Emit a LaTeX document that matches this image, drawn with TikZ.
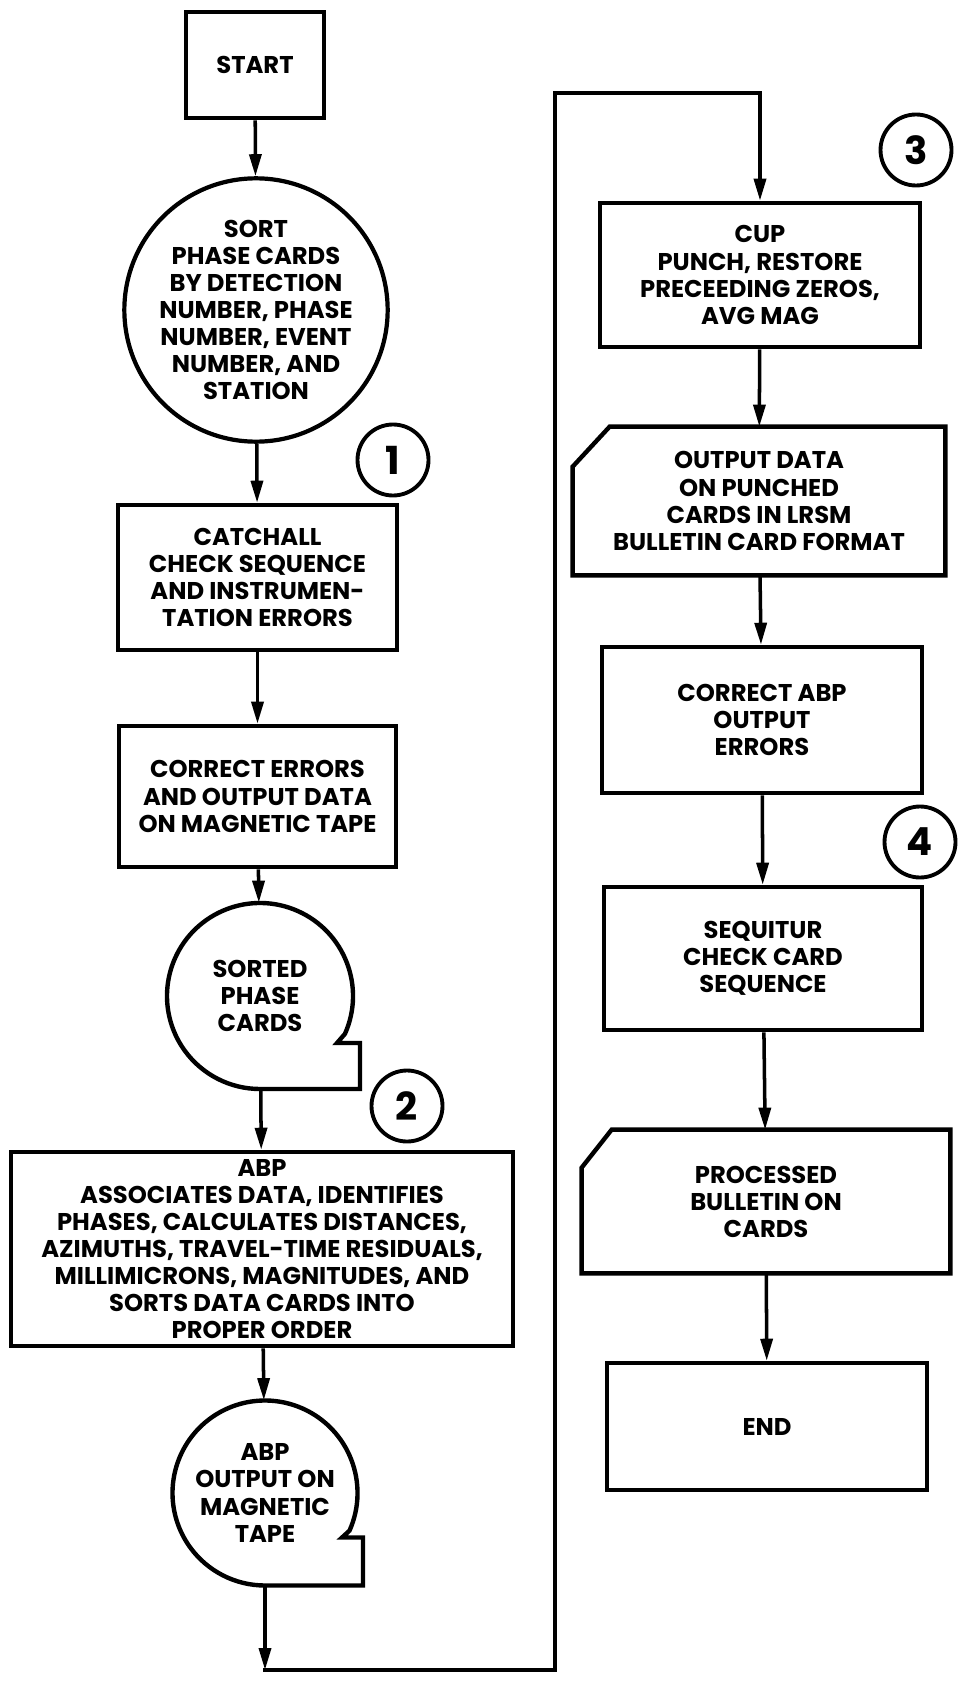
\documentclass[tikz,border=0pt]{standalone}
\usepackage{fontspec}
\setmainfont{Poppins}
\usetikzlibrary{arrows.meta}

\begin{document}
\begin{tikzpicture}[
    every node/.style={font=\bfseries\fontsize{13.8}{15.4}\selectfont, align=center},
    box/.style={draw, line width=2.6pt, inner sep=0pt},
    card/.style={inner sep=0pt},
    tape/.style={circle, minimum size=3.72cm, inner sep=0pt},
    outline/.style={line width=2.5pt},
    num/.style={draw, circle, line width=2.2pt, minimum size=1.42cm, inner sep=0pt,
      font=\bfseries\fontsize{22}{22}\selectfont},
    flow/.style={line width=2pt, -{Triangle[length=0.44cm, width=0.24cm]}}
  ]
      \useasboundingbox (0,0) rectangle (19.16,-33.64);
      % left column
      \node [box, minimum width=2.76cm, minimum height=2.12cm] (start) at (5.10,-1.30) {START};
      \node [draw, circle, line width=2.4pt, minimum size=5.1cm, inner sep=0pt] (sort) at (5.12,-6.20)
        {SORT\\PHASE CARDS\\BY DETECTION\\NUMBER, PHASE\\NUMBER, EVENT\\NUMBER, AND\\STATION};
      \node [num] (one) at (7.86,-9.20) {1};
      \node [box, minimum width=5.58cm, minimum height=2.90cm] (catchall) at (5.15,-11.55)
        {CATCHALL\\CHECK SEQUENCE\\AND INSTRUMEN-\\TATION ERRORS};
      \node [box, minimum width=5.54cm, minimum height=2.82cm] (fixerr) at (5.15,-15.93)
        {CORRECT ERRORS\\AND OUTPUT DATA\\ON MAGNETIC TAPE};
      \node [tape] (sorted) at (5.20,-19.92) {SORTED\\PHASE\\CARDS};
      \draw [outline] ([shift={(-24:1.86)}]sorted.center) arc [start angle=-24, end angle=270, radius=1.86]
        -- ++(2.0,0) -- ++(0,0.92) -- ++(-0.46,0) -- cycle;
      \node [num] (two) at (8.14,-22.12) {2};
      \node [box, minimum width=10.04cm, minimum height=3.88cm] (abp) at (5.24,-24.98)
        {ABP\\ASSOCIATES DATA, IDENTIFIES\\PHASES, CALCULATES DISTANCES,\\AZIMUTHS, TRAVEL-TIME RESIDUALS,\\MILLIMICRONS, MAGNITUDES, AND\\SORTS DATA CARDS INTO\\PROPER ORDER};
      \node [tape, minimum size=3.70cm] (abpout) at (5.30,-29.86) {ABP\\OUTPUT ON\\MAGNETIC\\TAPE};
      \draw [outline] ([shift={(-24:1.85)}]abpout.center) arc [start angle=-24, end angle=270, radius=1.85]
        -- ++(1.96,0) -- ++(0,0.96) -- ++(-0.42,0) -- cycle;
      % right column
      \node [num] (three) at (18.32,-3.00) {3};
      \node [box, minimum width=6.40cm, minimum height=2.88cm] (cup) at (15.20,-5.50)
        {CUP\\PUNCH, RESTORE\\PRECEEDING ZEROS,\\AVG MAG};
      \node [card, minimum width=7.44cm, minimum height=2.96cm] (outcard) at (15.18,-10.02)
        {OUTPUT DATA\\ON PUNCHED\\CARDS IN LRSM\\BULLETIN CARD FORMAT};
      \draw [outline] ([yshift=-0.80cm]outcard.north west) -- ([xshift=0.74cm]outcard.north west)
        -- (outcard.north east) -- (outcard.south east) -- (outcard.south west) -- cycle;
      \node [box, minimum width=6.40cm, minimum height=2.92cm] (fixabp) at (15.24,-14.40)
        {CORRECT ABP\\OUTPUT\\ERRORS};
      \node [num] (four) at (18.40,-16.84) {4};
      \node [box, minimum width=6.36cm, minimum height=2.86cm] (sequitur) at (15.26,-19.17)
        {SEQUITUR\\CHECK CARD\\SEQUENCE};
      \node [card, minimum width=7.36cm, minimum height=2.86cm] (bulletin) at (15.32,-24.03)
        {PROCESSED\\BULLETIN ON\\CARDS};
      \draw [outline] ([yshift=-0.76cm]bulletin.north west) -- ([xshift=0.60cm]bulletin.north west)
        -- (bulletin.north east) -- (bulletin.south east) -- (bulletin.south west) -- cycle;
      \node [box, minimum width=6.40cm, minimum height=2.54cm] (end) at (15.34,-28.53) {END};
      % connectors
      \draw [flow] (start) -- (sort);
      \draw [flow] (sort) -- (catchall);
      \draw [flow] (catchall) -- (fixerr);
      \draw [flow] (fixerr) -- (sorted);
      \draw [flow] (sorted) -- (abp);
      \draw [flow] (abp) -- (abpout);
      \coordinate (loopa) at (5.30,-33.40);
      \coordinate (loopb) at (11.10,-33.40);
      \coordinate (loopc) at (11.10,-1.86);
      \coordinate (loopd) at (15.20,-1.86);
      \draw [flow] (abpout) -- (loopa);
      \draw [flow, line cap=rect] (loopa) -- (loopb) -- (loopc) -- (loopd) -- (cup);
      \draw [flow] (cup) -- (outcard);
      \draw [flow] (outcard) -- (fixabp);
      \draw [flow] (fixabp) -- (sequitur);
      \draw [flow] (sequitur) -- (bulletin);
      \draw [flow] (bulletin) -- (end);
    \end{tikzpicture}
\end{document}
